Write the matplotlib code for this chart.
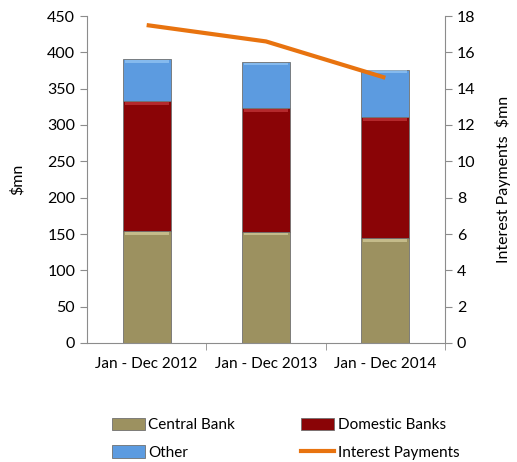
import matplotlib
matplotlib.use("Agg")
import matplotlib.pyplot as plt
from matplotlib.patches import Patch
from matplotlib.lines import Line2D
import numpy as np

plt.rcParams['font.family'] = ['Lato', 'DejaVu Sans']

periods = ["Jan - Dec 2012", "Jan - Dec 2013", "Jan - Dec 2014"]
central_bank = [154, 153, 144]
domestic_banks = [179, 170, 167]
other = [58, 64, 65]
interest_payments = [17.5, 16.6, 14.6]

c_central = '#9c9160'
c_domestic = '#8a0406'
c_other = '#5c9be0'
hi_central = '#e6dfae'
hi_domestic = '#d8484c'
hi_other = '#a8d4fa'
c_line = '#e8730f'
grey = '#8c8c8c'

x = np.arange(len(periods))
w = 0.4

fig = plt.figure(figsize=(5.17, 4.62), dpi=100)
ax = fig.add_axes([87/517, 1-343/462, 358/517, 327/462])

bottom = np.zeros(len(periods))
for vals, col, hi in [(central_bank, c_central, hi_central),
                      (domestic_banks, c_domestic, hi_domestic),
                      (other, c_other, hi_other)]:
    vals = np.array(vals, dtype=float)
    ax.bar(x, vals, w, bottom=bottom, color=col, edgecolor='#707070', linewidth=0.6, zorder=2)
    # soft bevel highlight along the top of each segment
    top = bottom + vals
    ax.bar(x, 4, w*0.92, bottom=top-5, color=hi, linewidth=0, zorder=3, alpha=0.55)
    bottom = top

ax.set_xlim(-0.5, 2.5)
ax.set_ylim(0, 450)
ax.set_yticks(range(0, 451, 50))
ax.set_xticks(x)
ax.set_xticklabels(periods, fontsize=11)
ax.set_xticks([0.5, 1.5, 2.5], minor=True)
ax.tick_params(axis='x', which='major', length=0, pad=10)
ax.tick_params(axis='x', which='minor', length=5, color=grey)
ax.tick_params(axis='y', length=5, color=grey, labelsize=11.5)
ax.set_ylabel("$mn", fontsize=11.5, labelpad=16)
for s in ['top', 'right']:
    ax.spines[s].set_visible(False)
for s in ['left', 'bottom']:
    ax.spines[s].set_color(grey)

ax2 = ax.twinx()
ax2.plot(x, interest_payments, color=c_line, lw=3, solid_capstyle='butt', zorder=5)
ax2.set_ylim(0, 18)
ax2.set_yticks(range(0, 19, 2))
ax2.tick_params(axis='y', length=5, color=grey, labelsize=11.5)
ax2.set_ylabel("Interest Payments  $mn", fontsize=11.5, labelpad=14)
for s in ['top', 'left', 'bottom']:
    ax2.spines[s].set_visible(False)
ax2.spines['right'].set_color(grey)

# legend fills column-wise, so order entries to read row by row
handles = [Patch(facecolor=c_central, edgecolor='#707070', lw=0.6),
           Patch(facecolor=c_other, edgecolor='#707070', lw=0.6),
           Patch(facecolor=c_domestic, edgecolor='#707070', lw=0.6),
           Line2D([], [], color=c_line, lw=3)]
labels = ["Central Bank", "Other", "Domestic Banks", "Interest Payments"]
fig.legend(handles, labels, loc='upper left', bbox_to_anchor=(104/517, 1-410/462),
           ncol=2, frameon=False, fontsize=11, handlelength=2.2, handleheight=0.9,
           handletextpad=0.2, columnspacing=4.3, labelspacing=0.85, borderpad=0)

fig.savefig("out.png", dpi=100)
